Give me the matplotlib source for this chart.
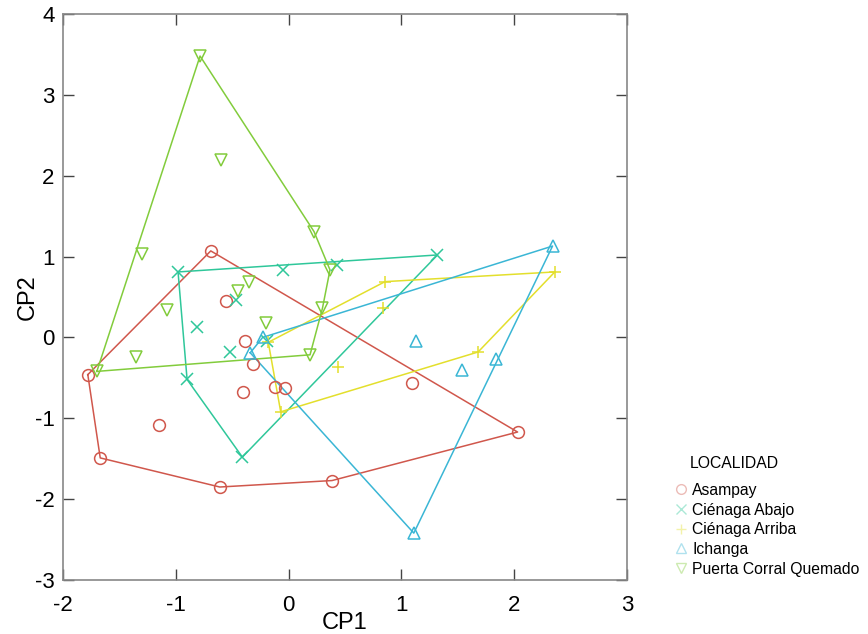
import numpy as np
import matplotlib
matplotlib.use("Agg")
import matplotlib.pyplot as plt
from matplotlib.lines import Line2D

plt.rcParams['font.family'] = ['Liberation Sans', 'DejaVu Sans']
plt.rcParams['axes.unicode_minus'] = False

localidades = ["Asampay", "Ciénaga Abajo", "Ciénaga Arriba", "Ichanga", "Puerta Corral Quemado"]
legend_title = "LOCALIDAD"
colors = ["#d0574c", "#2fc79a", "#e3df2c", "#3ab6d5", "#82cc3c"]
markers = ["o", "x", "+", "^", "v"]

asampay_cp1 = [-1.78, -0.69, 2.03, 0.385, -0.61, -1.67, -0.555, -0.39, -0.32, -0.40, -0.12, -0.03, -1.15, 1.09]
asampay_cp2 = [-0.46, 1.07, -1.17, -1.77, -1.85, -1.49, 0.45, -0.05, -0.33, -0.67, -0.61, -0.62, -1.08, -0.56]

abajo_cp1 = [-0.98, 1.32, -0.41, -0.90, -0.05, 0.43, -0.81, -0.52, -0.47, -0.19]
abajo_cp2 = [0.81, 1.02, -1.48, -0.52, 0.84, 0.90, 0.13, -0.18, 0.46, -0.04]

arriba_cp1 = [2.36, 0.855, -0.18, -0.07, 1.68, 0.84, 0.44]
arriba_cp2 = [0.81, 0.69, -0.06, -0.92, -0.18, 0.37, -0.37]

ichanga_cp1 = [2.34, 1.11, -0.34, -0.23, 1.13, 1.54, 1.84]
ichanga_cp2 = [1.13, -2.42, -0.19, 0.00, -0.04, -0.40, -0.27]

pcq_cp1 = [-0.785, 0.225, 0.367, 0.30, 0.19, -1.70, -1.30, -0.60, -1.35, -1.08, -0.45, -0.35, -0.20]
pcq_cp2 = [3.48, 1.31, 0.835, 0.36, -0.215, -0.42, 1.03, 2.20, -0.24, 0.34, 0.58, 0.69, 0.18]

groups = [(asampay_cp1, asampay_cp2), (abajo_cp1, abajo_cp2), (arriba_cp1, arriba_cp2),
          (ichanga_cp1, ichanga_cp2), (pcq_cp1, pcq_cp2)]

x_ticks = [-2, -1, 0, 1, 2, 3]
y_ticks = [-3, -2, -1, 0, 1, 2, 3, 4]


def convex_hull(xs, ys):
    pts = sorted(set(zip(xs, ys)))
    def cross(o, a, b):
        return (a[0] - o[0]) * (b[1] - o[1]) - (a[1] - o[1]) * (b[0] - o[0])
    lower = []
    for p in pts:
        while len(lower) >= 2 and cross(lower[-2], lower[-1], p) <= 0:
            lower.pop()
        lower.append(p)
    upper = []
    for p in reversed(pts):
        while len(upper) >= 2 and cross(upper[-2], upper[-1], p) <= 0:
            upper.pop()
        upper.append(p)
    hull = lower[:-1] + upper[:-1]
    hull.append(hull[0])
    return np.array(hull)


fig = plt.figure(figsize=(8.68, 6.34), dpi=100)
ax = fig.add_axes([63 / 868, 1 - 580 / 634, (627 - 63) / 868, (580 - 14) / 634])

for (xs, ys), name, c, m in zip(groups, localidades, colors, markers):
    h = convex_hull(xs, ys)
    ax.plot(h[:, 0], h[:, 1], color=c, lw=1.1, zorder=2)
    if m in ("x", "+"):
        ax.plot(xs, ys, ls="none", marker=m, ms=9, mew=1.1, color=c, zorder=3)
    else:
        ax.plot(xs, ys, ls="none", marker=m, ms=8.5, mew=1.1, mfc="none", mec=c, zorder=3)

ax.set_xlim(-2, 3)
ax.set_ylim(-3, 4)
ax.set_xticks(x_ticks)
ax.set_yticks(y_ticks)
ax.set_xticklabels([str(t) for t in x_ticks])
ax.set_yticklabels([str(t) for t in y_ticks])
ax.tick_params(direction="in", length=8, width=1, color="#444444", labelsize=16,
               top=True, right=True)
ax.tick_params(axis="x", pad=11)
ax.tick_params(axis="y", pad=6)
for s in ax.spines.values():
    s.set_color("#888888")
    s.set_linewidth(1.2)
ax.set_xlabel("CP1", fontsize=17, labelpad=-3)
ax.set_ylabel("CP2", fontsize=17, labelpad=-3)

handles = []
for name, c, m in zip(localidades, colors, markers):
    if m in ("x", "+"):
        handles.append(Line2D([], [], ls="none", marker=m, ms=7, mew=1.0, color=c, alpha=0.4))
    else:
        handles.append(Line2D([], [], ls="none", marker=m, ms=7, mew=1.0, mfc="none", mec=c, alpha=0.4))
leg = ax.legend(handles, localidades, loc="upper left",
                bbox_to_anchor=(667 / 868, 1 - 475 / 634), bbox_transform=fig.transFigure,
                frameon=False, fontsize=11.3, borderpad=0,
                handlelength=0.8, handletextpad=0.3, labelspacing=0.3)
fig.text(690 / 868, 1 - 464 / 634, legend_title, fontsize=11.3, ha="left", va="center")

fig.savefig("out.png", dpi=100)
